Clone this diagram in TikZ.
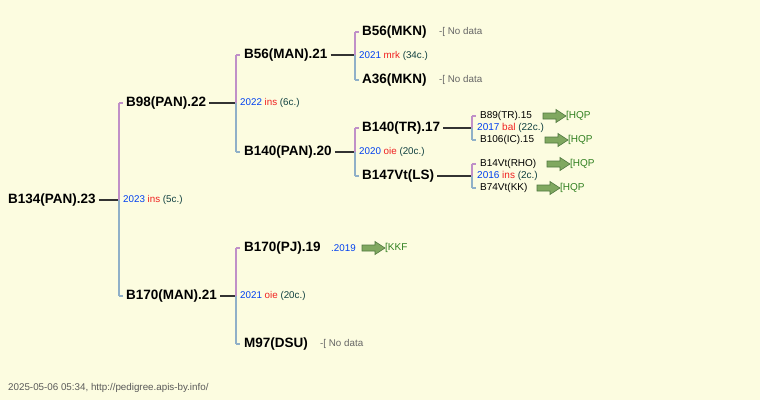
\documentclass[tikz,border=0pt]{standalone}
\usepackage{fontspec}
\setmainfont{Liberation Sans}
\definecolor{bg}{HTML}{FCFCE0}
\definecolor{pur}{HTML}{C090C8}
\definecolor{blu}{HTML}{90B0C8}
\definecolor{yr}{HTML}{0040F0}
\definecolor{rd}{HTML}{F02020}
\definecolor{dk}{HTML}{104040}
\definecolor{gr}{HTML}{308020}
\definecolor{arf}{HTML}{80A860}
\definecolor{are}{HTML}{507840}
\tikzset{
 big/.style={font=\fontsize{13.5}{15}\selectfont\bfseries,inner sep=0pt,anchor=west},
 sm/.style={font=\fontsize{10}{11}\selectfont,inner sep=0pt,anchor=west},
 lab/.style={font=\fontsize{9.8}{11}\selectfont,inner sep=0pt,anchor=west},
 con/.style={draw=gray!40!black,line width=1.8pt},
 bp/.style={draw=pur,line width=1.8pt},
 bb/.style={draw=blu,line width=1.8pt},
 gafill/.style={draw=are,fill=arf,line width=0.6pt},
}
\newcommand{\yl}[3]{{\color{yr}#1} {\color{rd}#2} {\color{dk}(#3)}}
\newcommand{\garrow}[2]{\draw[gafill] (#1,#2-3)--(#1+13,#2-3)--(#1+13,#2-6.5)--(#1+23,#2)--(#1+13,#2+6.5)--(#1+13,#2+3)--(#1,#2+3)--cycle;}
\begin{document}
\begin{tikzpicture}[x=1pt,y=-1pt]
\fill[bg] (0,0) rectangle (760,400);
\useasboundingbox (0,0) rectangle (760,400);
% root
\node[big] (r) at (8,200) {B134(PAN).23};
\coordinate (rc) at (119,200);
\draw[con] (r.east)+(3,0) -- (rc);
\draw[bp] (119,103) -- (119,200); \draw[bb] (119,200) -- (119,296);
\draw[bp] (119,103)--(123,103); \draw[bb] (119,296)--(123,296);
\node[lab] (l1) at (123,200) {\yl{2023}{ins}{5c.}};
% level 2
\node[big] (a) at (126,103) {B98(PAN).22};
\node[big] (b) at (126,296) {B170(MAN).21};
\coordinate (ac) at (236,103); \coordinate (bc) at (236,296);
\draw[con] (a.east)+(3,0) -- (ac);
\draw[con] (b.east)+(3,0) -- (bc);
\draw[bp] (236,55)--(236,103); \draw[bb] (236,103)--(236,152);
\draw[bp] (236,55)--(240,55); \draw[bb] (236,152)--(240,152);
\draw[bp] (236,248)--(236,296); \draw[bb] (236,296)--(236,344);
\draw[bp] (236,248)--(240,248); \draw[bb] (236,344)--(240,344);
\node[lab] (l2) at (240,103) {\yl{2022}{ins}{6c.}};
\node[lab] (l3) at (240,296) {\yl{2021}{oie}{20c.}};
% level 3
\node[big] (c) at (244,55) {B56(MAN).21};
\node[big] (d) at (244,152) {B140(PAN).20};
\node[big] (e) at (244,248) {B170(PJ).19};
\node[big] (f) at (244,344) {M97(DSU)};
\node[lab,text=yr] (e1) at (331,248) {.2019};
\garrow{362}{248}
\node[sm,text=gr] (e3) at (385,248) {[KKF};
\node[lab,text=gray!80!black] (f1) at (320,344) {-[ No data};
\coordinate (cc) at (355,55); \coordinate (dc) at (355,152);
\draw[con] (c.east)+(3,0) -- (cc);
\draw[con] (d.east)+(3,0) -- (dc);
\draw[bp] (355,32)--(355,55); \draw[bb] (355,55)--(355,80);
\draw[bp] (355,32)--(359,32); \draw[bb] (355,80)--(359,80);
\draw[bp] (355,128)--(355,152); \draw[bb] (355,152)--(355,176);
\draw[bp] (355,128)--(359,128); \draw[bb] (355,176)--(359,176);
\node[lab] (l4) at (359,56) {\yl{2021}{mrk}{34c.}};
\node[lab] (l5) at (359,152) {\yl{2020}{oie}{20c.}};
% level 4
\node[big] (g) at (362,32) {B56(MKN)};
\node[big] (h) at (362,80) {A36(MKN)};
\node[lab,text=gray!80!black] (g1) at (439,32) {-[ No data};
\node[lab,text=gray!80!black] (h1) at (439,80) {-[ No data};
\node[big] (i) at (362,128) {B140(TR).17};
\node[big] (j) at (362,176) {B147Vt(LS)};
\coordinate (ic) at (472,128); \coordinate (jc) at (472,176);
\draw[con] (i.east)+(3,0) -- (ic);
\draw[con] (j.east)+(3,0) -- (jc);
\draw[bp] (472,116)--(472,128); \draw[bb] (472,128)--(472,140);
\draw[bp] (472,116)--(476,116); \draw[bb] (472,140)--(476,140);
\draw[bp] (472,164)--(472,176); \draw[bb] (472,176)--(472,188);
\draw[bp] (472,164)--(476,164); \draw[bb] (472,188)--(476,188);
\node[sm] (l6) at (477,128) {\yl{2017}{bal}{22c.}};
\node[sm] (l7) at (477,176) {\yl{2016}{ins}{2c.}};
% level 5
\node[sm] (k) at (480,116) {B89(TR).15};
\garrow{543}{116} \node[sm,text=gr] (k2) at (566,116) {[HQP};
\node[sm] (m) at (480,140) {B106(IC).15};
\garrow{545}{140} \node[sm,text=gr] (m2) at (568,140) {[HQP};
\node[sm] (n) at (480,164) {B14Vt(RHO)};
\garrow{547}{164} \node[sm,text=gr] (n2) at (570,164) {[HQP};
\node[sm] (o) at (480,188) {B74Vt(KK)};
\garrow{537}{188} \node[sm,text=gr] (o2) at (560,188) {[HQP};
\node[lab,text=gray!70!black] (ft) at (8,388) {2025-05-06 05:34, http://pedigree.apis-by.info/};
\end{tikzpicture}
\end{document}
